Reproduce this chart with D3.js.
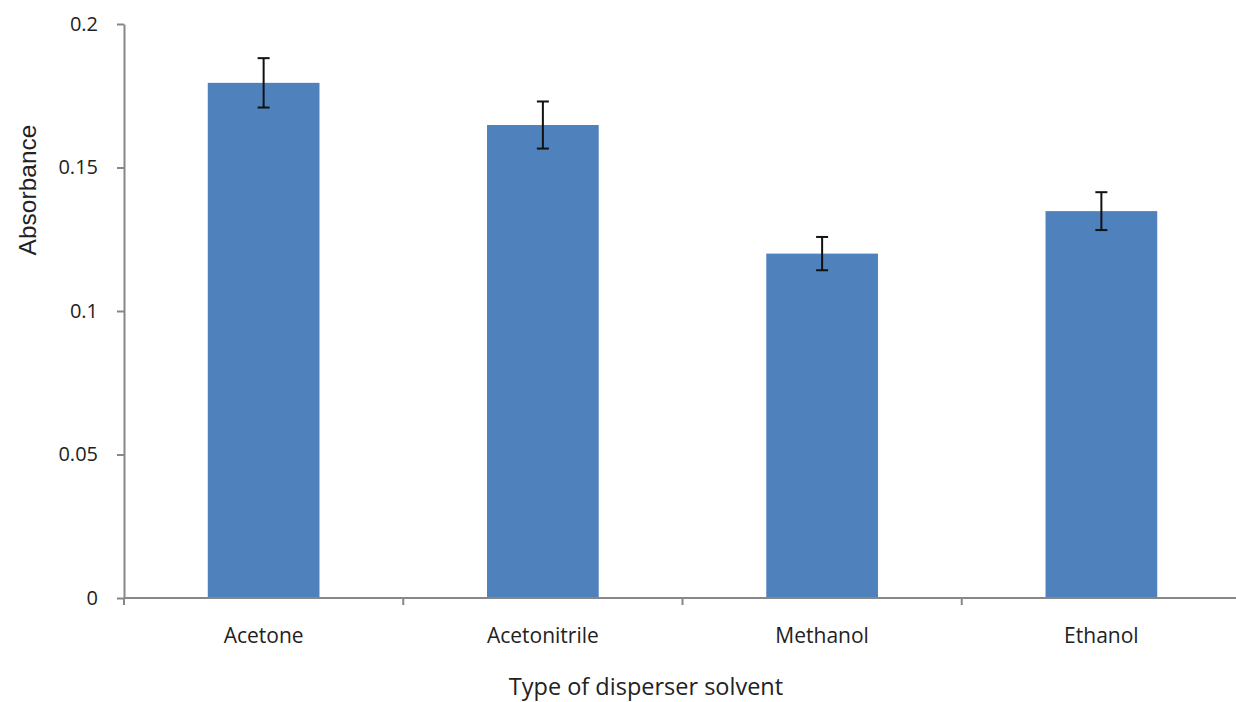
<!DOCTYPE html>
<html><head><meta charset="utf-8">
<script src="https://cdn.jsdelivr.net/npm/d3@7"></script>
<style>body{margin:0;background:#fff}svg{display:block}</style>
</head><body>
<svg id="c" width="1236" height="702"></svg>
<script>
const categories = ["Acetone","Acetonitrile","Methanol","Ethanol"];
const values = [0.1795, 0.1648, 0.1200, 0.1348];
const errors = [0.0086, 0.0082, 0.0058, 0.0066];
const yTicks = [0, 0.05, 0.1, 0.15, 0.2];
const yTickLabels = ["0","0.05","0.1","0.15","0.2"];

(function(){
const svg = d3.select("#c");
const mLeft = 124, mRight = 1241, mTop = 24, mBottom = 598;
const font = "'Open Sans', 'Liberation Sans', sans-serif";
const axisColor = "#878787";

const x = d3.scaleBand().domain(categories).range([mLeft, mRight]).padding(0);
const y = d3.scaleLinear().domain([0, 0.2]).range([mBottom, mTop]);
const barW = x.bandwidth() * 0.4;

svg.selectAll("rect.bar").data(categories).join("rect")
  .attr("x", d => x(d) + x.bandwidth()/2 - barW/2)
  .attr("y", (d,i) => y(values[i]))
  .attr("width", barW)
  .attr("height", (d,i) => y(0) - y(values[i]))
  .attr("fill", "#4F81BD");

const eg = svg.append("g").attr("stroke", "#111").attr("stroke-width", 2);
categories.forEach((c,i) => {
  const cx = x(c) + x.bandwidth()/2;
  const y1 = y(values[i] + errors[i]), y2 = y(values[i] - errors[i]);
  eg.append("line").attr("x1", cx).attr("x2", cx).attr("y1", y1).attr("y2", y2);
  eg.append("line").attr("x1", cx-6).attr("x2", cx+6).attr("y1", y1).attr("y2", y1);
  eg.append("line").attr("x1", cx-6).attr("x2", cx+6).attr("y1", y2).attr("y2", y2);
});

const yAxis = d3.axisLeft(y).tickValues(yTicks).tickFormat((d,i) => yTickLabels[i]).tickSize(7).tickSizeOuter(0).tickPadding(19);
const gy = svg.append("g").attr("transform", `translate(${mLeft},0)`).call(yAxis);
gy.select(".domain").attr("stroke", axisColor).attr("stroke-width", 2);
gy.selectAll(".tick line").attr("stroke", axisColor).attr("stroke-width", 2);
gy.selectAll(".tick text").attr("font-family", font).attr("font-size", 20).attr("fill", "#222");

const xTickPos = d3.range(categories.length + 1).map(i => mLeft + i * x.step());
const gx = svg.append("g");
gx.append("line").attr("x1", mLeft).attr("x2", 1236).attr("y1", mBottom).attr("y2", mBottom)
  .attr("stroke", axisColor).attr("stroke-width", 2);
gx.selectAll("line.t").data(xTickPos).join("line")
  .attr("x1", d => d).attr("x2", d => d).attr("y1", mBottom).attr("y2", mBottom + 7)
  .attr("stroke", axisColor).attr("stroke-width", 2);
gx.selectAll("text").data(categories).join("text")
  .attr("x", d => x(d) + x.bandwidth()/2).attr("y", 642.5)
  .attr("text-anchor", "middle").attr("font-family", font).attr("font-size", 21).attr("fill", "#222")
  .text(d => d);

svg.append("text").attr("x", 646).attr("y", 695).attr("text-anchor", "middle")
  .attr("font-family", font).attr("font-size", 23.5).attr("fill", "#222").text("Type of disperser solvent");
svg.append("text").attr("transform", "translate(36,190) rotate(-90)").attr("text-anchor", "middle")
  .attr("font-family", "'Liberation Sans', Arial, sans-serif").attr("font-size", 24.5).attr("fill", "#222").text("Absorbance");
})();
</script>
</body></html>
